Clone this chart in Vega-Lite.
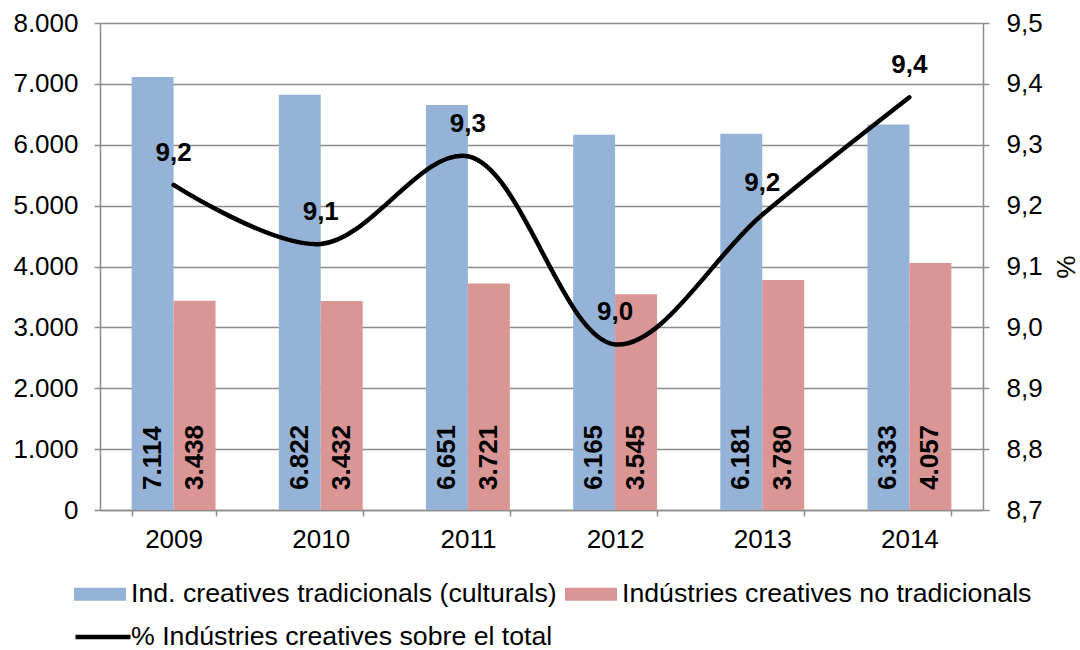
{
  "$schema": "https://vega.github.io/schema/vega-lite/v6.json",
  "autosize": {"type": "none"},
  "padding": {"left": 100, "top": 23, "right": 97, "bottom": 140},
  "width": 883,
  "height": 487,
  "background": "white",
  "config": {
    "font": "Liberation Sans",
    "view": {"stroke": null},
    "locale": {"number": {"decimal": ",", "thousands": ".", "grouping": [3], "currency": ["", " €"]}},
    "axis": {"labelFont": "Liberation Sans", "labelFontSize": 26, "labelColor": "black", "domainColor": "#8c8c8c", "tickColor": "#8c8c8c", "gridColor": "#8c8c8c", "domainWidth": 1.5, "tickWidth": 1.5, "gridWidth": 1.5, "labelOverlap": false},
    "legend": {"labelFont": "Liberation Sans", "labelFontSize": 26.7, "labelColor": "black", "padding": 0}
  },
  "datasets": {
    "bars": [
      {"year": "2009", "series": "Ind. creatives tradicionals (culturals)", "value": 7114},
      {"year": "2009", "series": "Indústries creatives no tradicionals", "value": 3438},
      {"year": "2010", "series": "Ind. creatives tradicionals (culturals)", "value": 6822},
      {"year": "2010", "series": "Indústries creatives no tradicionals", "value": 3432},
      {"year": "2011", "series": "Ind. creatives tradicionals (culturals)", "value": 6651},
      {"year": "2011", "series": "Indústries creatives no tradicionals", "value": 3721},
      {"year": "2012", "series": "Ind. creatives tradicionals (culturals)", "value": 6165},
      {"year": "2012", "series": "Indústries creatives no tradicionals", "value": 3545},
      {"year": "2013", "series": "Ind. creatives tradicionals (culturals)", "value": 6181},
      {"year": "2013", "series": "Indústries creatives no tradicionals", "value": 3780},
      {"year": "2014", "series": "Ind. creatives tradicionals (culturals)", "value": 6333},
      {"year": "2014", "series": "Indústries creatives no tradicionals", "value": 4057}
    ],
    "pct": [
      {"year": "2009", "pct": 9.234, "label": 9.2},
      {"year": "2010", "pct": 9.137, "label": 9.1},
      {"year": "2011", "pct": 9.281, "label": 9.3},
      {"year": "2012", "pct": 8.972, "label": 9.0},
      {"year": "2013", "pct": 9.185, "label": 9.2},
      {"year": "2014", "pct": 9.378, "label": 9.4}
    ]
  },
  "encoding": {
    "x": {
      "field": "year", "type": "nominal",
      "scale": {"paddingInner": 0.43, "paddingOuter": 0.215},
      "axis": {"title": null, "labelAngle": 0, "tickBand": "extent", "tickSize": 6, "labelPadding": 10, "grid": false}
    }
  },
  "layer": [
    {
      "data": {"name": "bars"},
      "encoding": {
        "xOffset": {"field": "series", "type": "nominal", "sort": null, "scale": {"paddingInner": 0, "paddingOuter": 0}},
        "y": {
          "field": "value", "type": "quantitative",
          "scale": {"domain": [0, 8000], "nice": false},
          "axis": {"title": null, "values": [0, 1000, 2000, 3000, 4000, 5000, 6000, 7000, 8000], "format": ",d", "grid": true, "tickSize": 6, "labelPadding": 16}
        }
      },
      "layer": [
        {
          "mark": {"type": "bar"},
          "encoding": {
            "color": {
              "field": "series", "type": "nominal", "sort": null,
              "scale": {"domain": ["Ind. creatives tradicionals (culturals)", "Indústries creatives no tradicionals"], "range": ["#95B3D7", "#D99694"]},
              "legend": {
                "title": null, "orient": "none", "direction": "horizontal",
                "legendX": -26, "legendY": 545,
                "symbolType": "M-1,-0.25H1V0.25H-1Z", "symbolSize": 2704,
                "symbolStrokeWidth": 0, "labelOffset": 5, "columnPadding": 8, "labelLimit": 600
              }
            }
          }
        },
        {
          "mark": {"type": "text", "angle": 270, "align": "left", "baseline": "middle", "dx": 20, "fontSize": 26, "fontWeight": "bold", "color": "black"},
          "encoding": {
            "y": {"datum": 0, "type": "quantitative"},
            "text": {"field": "value", "type": "quantitative", "format": ",d"}
          }
        }
      ]
    },
    {
      "data": {"name": "pct"},
      "encoding": {
        "y": {
          "field": "pct", "type": "quantitative",
          "scale": {"domain": [8.7, 9.5], "nice": false, "zero": false},
          "axis": {"orient": "right", "title": "%", "titleFontSize": 26, "titleFontWeight": "normal", "titleColor": "black", "titlePadding": 9, "values": [8.7, 8.8, 8.9, 9.0, 9.1, 9.2, 9.3, 9.4, 9.5], "format": ".1f", "grid": false, "tickSize": 6, "labelPadding": 17}
        }
      },
      "layer": [
        {
          "mark": {"type": "line", "interpolate": "catmull-rom", "strokeWidth": 4.5, "strokeCap": "round"},
          "encoding": {
            "stroke": {
              "datum": "% Indústries creatives sobre el total",
              "scale": {"range": ["black"]},
              "legend": {
                "title": null, "orient": "none", "legendX": -27, "legendY": 584,
                "symbolType": "stroke", "symbolSize": 3025, "symbolStrokeWidth": 4.5, "labelOffset": -2, "labelLimit": 600
              }
            }
          }
        },
        {
          "mark": {"type": "text", "dy": -32, "baseline": "middle", "align": "center", "fontSize": 26, "fontWeight": "bold", "color": "black"},
          "encoding": {
            "text": {"field": "label", "type": "quantitative", "format": ".1f"}
          }
        }
      ]
    }
  ],
  "resolve": {"scale": {"y": "independent"}}
}
